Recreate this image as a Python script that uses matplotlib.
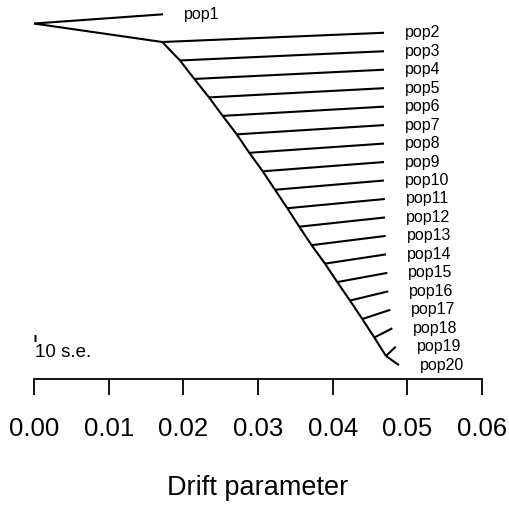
import numpy as np
import matplotlib
matplotlib.use('Agg')
import matplotlib.pyplot as plt

plt.rcParams['font.family'] = ['Liberation Sans', 'DejaVu Sans']

## =========================
## tree
## =========================
pops = ['pop%d' % i for i in range(1, 21)]

# drift of each leaf (pop1 .. pop20)
tip_drift = [0.01728, 0.04688, 0.04688, 0.04688, 0.04688, 0.04688, 0.04688,
             0.04688, 0.04688, 0.04688, 0.04701, 0.04701, 0.04710, 0.04714,
             0.04732, 0.04745, 0.04772, 0.04799, 0.04844, 0.04888]

# drift of the internal nodes down the backbone (node1 .. node18)
node_drift = [0.01718, 0.01955, 0.02147, 0.02344, 0.02527, 0.02715, 0.02884,
              0.03063, 0.03228, 0.03393, 0.03553, 0.03717, 0.03897, 0.04062,
              0.04232, 0.04397, 0.04558, 0.04714]

root_drift = 0.0
se10 = 0.00030          # length of the 10 s.e. bar

xticks = [0.00, 0.01, 0.02, 0.03, 0.04, 0.05, 0.06]

## =========================
## y positions (leaf order)
## =========================
tip_y = np.arange(len(pops), dtype=float)
node_y = (tip_y[1:-1] + tip_y[2:]) / 2.0
root_y = (tip_y[0] + tip_y[1]) / 2.0

W, H = 510, 505
fig = plt.figure(figsize=(W / 100., H / 100.), dpi=100)
# plot box: x 0 -> px 34, 0.06 -> px 482 ; pop1 at px 14.3, axis line at px 379
top_px, bot_px = 14.3, 379.0
step_px = (365.2 - 14.3) / 19.0
ax = fig.add_axes([34. / W, 1 - bot_px / H, 448. / W, (bot_px - top_px) / H])
ax.set_xlim(0, 0.06)
ax.set_ylim((bot_px - top_px) / step_px, 0)

lw = 1.5
def seg(x0, y0, x1, y1):
    ax.plot([x0, x1], [y0, y1], color='black', lw=lw, clip_on=False,
            solid_capstyle='butt')

# root
seg(root_drift, root_y, tip_drift[0], tip_y[0])
seg(root_drift, root_y, node_drift[0], node_y[0])
# backbone
for k in range(len(node_drift)):
    seg(node_drift[k], node_y[k], tip_drift[k + 1], tip_y[k + 1])
    if k + 1 < len(node_drift):
        seg(node_drift[k], node_y[k], node_drift[k + 1], node_y[k + 1])
    else:
        seg(node_drift[k], node_y[k], tip_drift[k + 2], tip_y[k + 2])

# leaf labels
for name, x, y in zip(pops, tip_drift, tip_y):
    ax.annotate(name, (x, y), xytext=(15, 0), textcoords='offset points',
                ha='left', va='center', fontsize=11.5, annotation_clip=False)

# scale bar
bar_y = (337.5 - top_px) / step_px
ax.plot([-0.00003, se10 - 0.00003], [bar_y, bar_y], color='black', lw=5,
        solid_capstyle='butt', clip_on=False)
ax.text(0.0002, (352.5 - top_px) / step_px, '10 s.e.', ha='left', va='center',
        fontsize=13.5)

for s in ['left', 'right', 'top']:
    ax.spines[s].set_visible(False)
ax.spines['bottom'].set_linewidth(1.3)
ax.set_yticks([])
ax.set_xticks(xticks)
ax.set_xticklabels(['%.2f' % v for v in xticks], fontsize=18.5)
ax.tick_params(axis='x', length=11.5, width=1.3, pad=16)
ax.set_xlabel('Drift parameter', fontsize=19.5, labelpad=24)
ax.patch.set_visible(False)

fig.savefig('out.png', dpi=100)
